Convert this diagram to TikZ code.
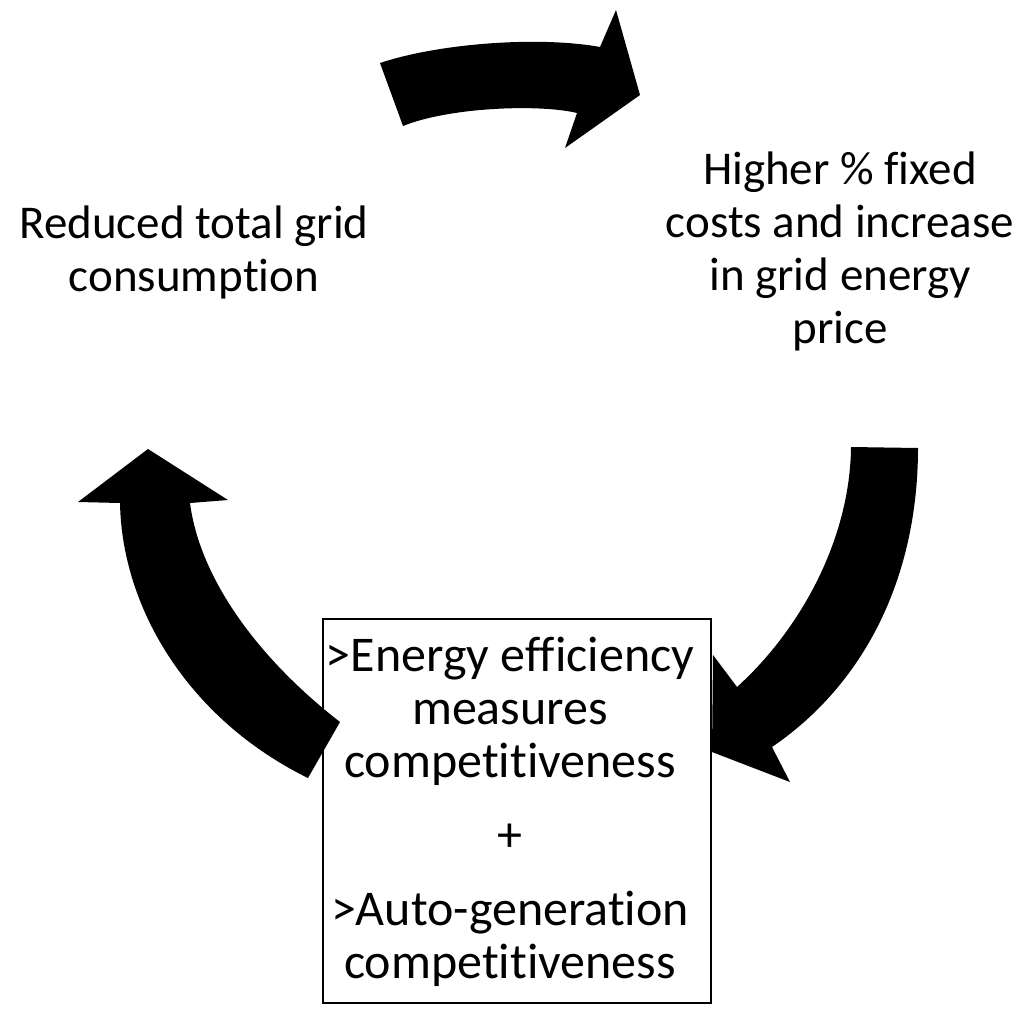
\documentclass[tikz,border=0pt]{standalone}
\usepackage{fontspec}
\setmainfont{Carlito}[Ligatures=NoCommon]
\begin{document}
\begin{tikzpicture}[x=1pt,y=-1pt,
  lbl/.style={align=center,inner sep=0pt,font=\fontsize{47}{53}\selectfont},
  boxtext/.style={align=center,inner sep=0pt,font=\fontsize{50}{53}\selectfont},
  arrowshape/.style={fill=black,draw=none}]
\useasboundingbox (0,0) rectangle (1024,1017);
% box
\node[draw=black,line width=2pt,fill=white,minimum width=388pt,minimum height=384pt,inner sep=0pt] (c) at (517,811) {};
\node[boxtext] (ct) at (510,812) {>Energy efficiency\\measures\\competitiveness\\[21pt]+\\[21pt]>Auto-generation\\competitiveness};
% text labels
\node[lbl] (a) at (194,252) {Reduced total grid\\consumption};
\node[lbl] (b) at (840,251) {Higher \% fixed\\costs and increase\\in grid energy\\price};
% top arrow
\path[arrowshape] (380,63) .. controls (440,43) and (540,36) .. (600,47)
  -- (616,10) -- (640,95) -- (565,148) -- (577,113)
  .. controls (540,104) and (450,107) .. (403,126) -- cycle;
% right arrow
\path[arrowshape] (851,447) -- (918,448)
  .. controls (918,570) and (870,680) .. (772,747)
  -- (790,782) -- (712,752) -- (713,655) -- (737,687)
  .. controls (800,630) and (850,540) .. (851,447) -- cycle;
% left arrow
\path[arrowshape] (148,449) -- (78,502) -- (120,503)
  .. controls (122,610) and (190,720) .. (308,778)
  -- (340,722)
  .. controls (260,660) and (200,580) .. (190,503)
  -- (228,500) -- cycle;
\end{tikzpicture}
\end{document}
